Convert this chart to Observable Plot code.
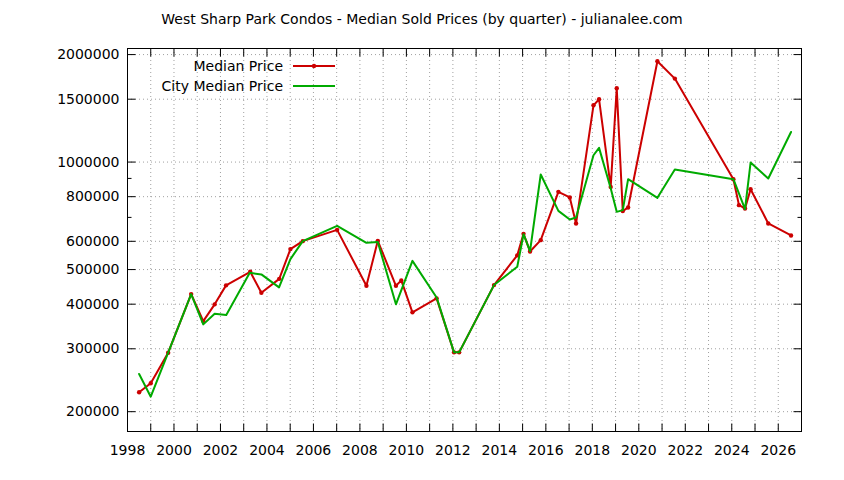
<!DOCTYPE html>
<html><head><meta charset="utf-8">
<script src="https://cdn.jsdelivr.net/npm/d3@7"></script>
<script src="https://cdn.jsdelivr.net/npm/@observablehq/plot@0.6"></script>
<style>
body{margin:0;background:#fff;}
#wrap{position:relative;width:844px;height:480px;font-family:"DejaVu Sans",sans-serif;color:#000;}
#title{position:absolute;left:0;top:10px;width:844px;text-align:center;font-size:14px;line-height:18px;}
#chart{position:absolute;left:0;top:30px;}
#legend{position:absolute;left:0;top:0;}
</style></head><body>
<div id="wrap">
<div id="title">West Sharp Park Condos - Median Sold Prices (by quarter) - julianalee.com</div>
<div id="chart"></div>
<svg id="legend" width="844" height="100" font-family="DejaVu Sans" font-size="14">
  <text x="283" y="66" text-anchor="end" dy="0.36em">Median Price</text>
  <line x1="293" x2="335" y1="66" y2="66" stroke="#cc0000" stroke-width="2"/>
  <circle cx="314" cy="66" r="2.2" fill="#cc0000"/>
  <text x="283" y="86" text-anchor="end" dy="0.36em">City Median Price</text>
  <line x1="293" x2="335" y1="86" y2="86" stroke="#00aa00" stroke-width="2"/>
</svg>
</div>
<script>
const medYears = [1998.50,1999.00,1999.75,2000.74,2001.26,2001.75,2002.24,2003.28,2003.76,2004.53,2005.01,2005.54,2007.02,2008.28,2008.77,2009.55,2009.78,2010.26,2011.30,2012.05,2012.27,2013.77,2014.77,2015.04,2015.32,2015.78,2016.54,2017.03,2017.30,2018.05,2018.29,2018.79,2019.05,2019.31,2019.54,2020.80,2021.55,2024.07,2024.31,2024.57,2024.81,2025.57,2026.55];
const medPrices = [226600,240300,292500,426900,358700,399600,451600,492800,430500,471000,570500,600500,645900,450300,601800,450300,466300,379500,415300,293200,293200,452400,548000,629500,562000,604500,825300,796000,673100,1442000,1499000,852100,1609000,728900,746400,1915000,1713000,895600,757500,741600,839700,673100,623000];

const cityYears = [1998.50,1999.00,1999.75,2000.74,2001.26,2001.75,2002.25,2003.26,2003.76,2004.52,2005.01,2005.54,2007.02,2008.28,2008.77,2009.55,2010.26,2011.30,2012.05,2012.27,2013.77,2014.77,2015.04,2015.32,2015.78,2016.54,2017.03,2017.30,2018.05,2018.29,2018.79,2019.05,2019.31,2019.54,2020.80,2021.55,2024.07,2024.57,2024.81,2025.57,2026.55];
const cityPrices = [255000,220300,292500,426900,351200,376100,373000,489600,484600,445800,535000,600500,662800,594000,597000,399600,529000,417800,293200,293200,452400,509000,628000,563000,923000,730200,690800,699800,1045000,1096000,845000,725500,733600,895600,794000,953300,895600,738300,997000,899500,1214000];

const xTickLabels = [1998,2000,2002,2004,2006,2008,2010,2012,2014,2016,2018,2020,2022,2024,2026];
const xTickYears = [1999,2000,2001,2002,2003,2004,2005,2006,2007,2008,2009,2010,2011,2012,2013,2014,2015,2016,2017,2018,2019,2020,2021,2022,2023,2024,2025,2026];
const yTickLabels = [200000,300000,400000,500000,600000,800000,1000000,1500000,2000000];
const yMinorTicks = [700000,900000];

const medData = medYears.map((year,i)=>({year, price: medPrices[i]}));
const cityData = cityYears.map((year,i)=>({year, price: cityPrices[i]}));

const tickSym = (dx,dy)=>({draw(ctx){ctx.moveTo(0,0);ctx.lineTo(dx,dy);}});
const gridStyle = {stroke:"#a0a0a0", strokeDasharray:"1,3", strokeWidth:1};
const tickStyle = {fill:"none", stroke:"black", strokeWidth:1};

const chart = Plot.plot({
  width: 844, height: 450,
  marginTop: 18, marginBottom: 49, marginLeft: 127, marginRight: 43,
  style: {fontFamily:"DejaVu Sans", fontSize:"14px", color:"black", background:"white", overflow:"visible"},
  x: {domain:[1998,2027], ticks: xTickLabels, tickFormat: d=>String(d), tickSize:0, tickPadding:14, label:null},
  y: {type:"log", domain:[176000,2080000], ticks: yTickLabels, tickFormat: d=>String(d), tickSize:0, tickPadding:8, label:null},
  marks: [
    Plot.ruleX(xTickYears, {x: d=>d, ...gridStyle}),
    Plot.ruleY(yTickLabels, {y: d=>d, ...gridStyle}),
    Plot.dot(xTickYears, {x: d=>d, frameAnchor:"bottom", symbol: tickSym(0,-8), ...tickStyle}),
    Plot.dot(xTickYears, {x: d=>d, frameAnchor:"top", symbol: tickSym(0,8), ...tickStyle}),
    Plot.dot(yTickLabels, {y: d=>d, frameAnchor:"left", symbol: tickSym(8,0), ...tickStyle}),
    Plot.dot(yTickLabels, {y: d=>d, frameAnchor:"right", symbol: tickSym(-8,0), ...tickStyle}),
    Plot.dot(yMinorTicks, {y: d=>d, frameAnchor:"left", symbol: tickSym(4,0), ...tickStyle}),
    Plot.dot(yMinorTicks, {y: d=>d, frameAnchor:"right", symbol: tickSym(-4,0), ...tickStyle}),
    Plot.line(medData, {x:"year", y:"price", stroke:"#cc0000", strokeWidth:2}),
    Plot.dot(medData, {x:"year", y:"price", r:2.2, fill:"#cc0000"}),
    Plot.line(cityData, {x:"year", y:"price", stroke:"#00aa00", strokeWidth:2}),
    Plot.frame({stroke:"black", strokeWidth:1})
  ]
});
document.getElementById("chart").appendChild(chart);
</script>
</body></html>
